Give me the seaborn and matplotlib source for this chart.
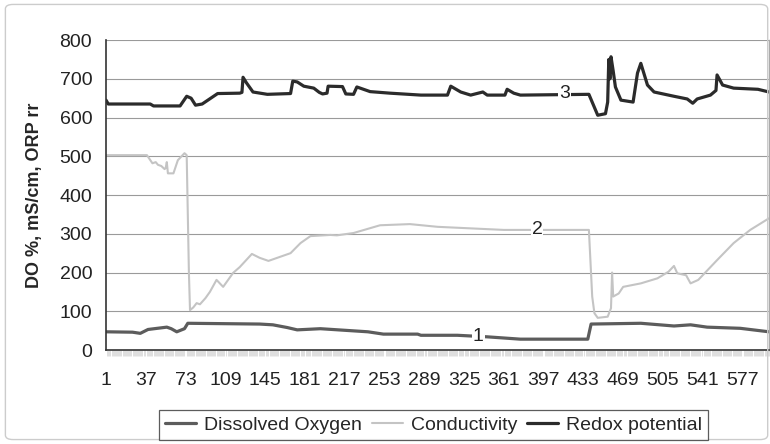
import matplotlib
matplotlib.use("Agg")
import matplotlib.pyplot as plt
import seaborn as sns
from matplotlib.ticker import MultipleLocator, FixedLocator
from matplotlib.patches import FancyBboxPatch

# category index (1..601) and reading for each series
do_x = [1, 25, 32, 39, 56, 60, 65, 72, 75, 140, 152, 165, 174, 195, 238, 252,
        283, 286, 319, 346, 376, 437, 440, 485, 515, 530, 545, 575, 601]
do_y = [47, 46, 43, 53, 59, 55, 47, 55, 69, 67, 65, 58, 52, 55, 47, 41,
        41, 38, 38, 34, 28, 28, 67, 69, 62, 65, 59, 56, 47]

cond_x = [1, 38, 43, 46, 48, 51, 54, 55, 56, 57, 62, 66, 72, 74, 76, 77, 80,
          83, 86, 91, 95, 101, 104, 107, 116, 122, 133, 140, 148, 168, 177,
          186, 204, 210, 225, 249, 276, 301, 331, 361, 438, 441, 443, 446,
          455, 458, 459, 460, 465, 469, 485, 500, 510, 515, 518, 526, 530,
          537, 554, 569, 584, 601]
cond_y = [503, 503, 482, 485, 478, 475, 467, 470, 485, 456, 456, 490, 508,
          503, 200, 103, 110, 121, 118, 134, 150, 181, 172, 163, 199, 214,
          248, 238, 230, 250, 276, 294, 297, 296, 302, 322, 325, 318, 314,
          310, 310, 138, 95, 83, 86, 108, 200, 138, 146, 163, 172, 185, 202,
          217, 198, 193, 172, 181, 232, 276, 310, 340]

orp_x = [1, 3, 41, 44, 68, 74, 78, 82, 88, 102, 122, 124, 125, 128, 134, 147,
         168, 170, 174, 180, 189, 194, 197, 201, 202, 215, 218, 225, 228, 240,
         258, 286, 310, 313, 322, 331, 342, 346, 362, 364, 370, 376, 438, 446,
         453, 455, 456, 457, 458, 460, 462, 467, 478, 482, 485, 491, 497, 515,
         527, 532, 536, 548, 553, 554, 559, 569, 591, 601]
orp_y = [645, 635, 635, 630, 630, 655, 650, 632, 635, 662, 663, 665, 704, 690,
         666, 660, 662, 694, 692, 681, 676, 665, 661, 663, 681, 680, 661, 660,
         679, 667, 663, 658, 658, 681, 666, 658, 666, 658, 658, 673, 663, 658,
         660, 606, 610, 640, 750, 700, 757, 720, 679, 645, 640, 715, 740, 684,
         666, 655, 648, 637, 648, 658, 670, 710, 684, 676, 673, 666]

x_ticks = list(range(1, 601, 36))
y_ticks = list(range(0, 801, 100))

sns.set_style("white")
plt.rcParams["font.family"] = ["Liberation Sans", "DejaVu Sans"]

fig = plt.figure(figsize=(7.7, 4.44), dpi=100)
ax = fig.add_axes([0.1377, 0.2117, 0.861, 0.698])

sns.lineplot(x=do_x, y=do_y, ax=ax, color="#5c5c5c", lw=2.3,
             label="Dissolved Oxygen")
sns.lineplot(x=cond_x, y=cond_y, ax=ax, color="#c4c4c4", lw=1.5,
             label="Conductivity")
sns.lineplot(x=orp_x, y=orp_y, ax=ax, color="#2b2b2b", lw=2.3,
             label="Redox potential")

ax.set_xlim(1, 601)
ax.set_ylim(0, 800)
ax.xaxis.set_major_locator(FixedLocator(x_ticks))
ax.xaxis.set_minor_locator(MultipleLocator(1))
ax.set_yticks(y_ticks)
ax.yaxis.grid(True, color="#9a9a9a", lw=0.8)
ax.set_axisbelow(True)
ax.tick_params(axis="x", which="major", length=0, pad=16, labelsize=14,
               labelcolor="#222")
ax.tick_params(axis="x", which="minor", length=4, width=0.5, color="#d2d2d2",
               bottom=True)
ax.tick_params(axis="y", length=0, pad=10, labelsize=14, labelcolor="#222")
ax.set_ylabel("DO %, mS/cm, ORP rr", fontsize=13, fontweight="bold",
              labelpad=12)
ax.set_xlabel("")

ax.spines["top"].set_visible(False)
ax.spines["left"].set_color("#333")
ax.spines["left"].set_linewidth(1.2)
ax.spines["bottom"].set_color("#333")
ax.spines["bottom"].set_linewidth(1.2)
ax.spines["right"].set_color("#aaaaaa")
ax.spines["right"].set_linewidth(1.0)

for label, px, py in [("3", 416, 661), ("2", 391, 310), ("1", 338, 34)]:
    ax.text(px, py, label, fontsize=14, ha="center", va="center", color="#222",
            bbox=dict(facecolor="white", edgecolor="none", pad=0.6))

ax.get_legend().remove()
handles, labels = ax.get_legend_handles_labels()
leg = fig.legend(handles, labels, loc="center", bbox_to_anchor=(0.563, 0.043),
                 ncol=3, fontsize=14, frameon=True, fancybox=False,
                 handlelength=1.6, handletextpad=0.4, columnspacing=0.5,
                 borderpad=0.3)
leg.get_frame().set_edgecolor("#333")
leg.get_frame().set_linewidth(0.9)

fig.patches.append(FancyBboxPatch((0.007, 0.01), 0.99, 0.98,
                                  boxstyle="round,pad=0,rounding_size=0.01",
                                  transform=fig.transFigure, fill=False,
                                  edgecolor="#cccccc", lw=1.0))

fig.savefig("out.png", dpi=100)
